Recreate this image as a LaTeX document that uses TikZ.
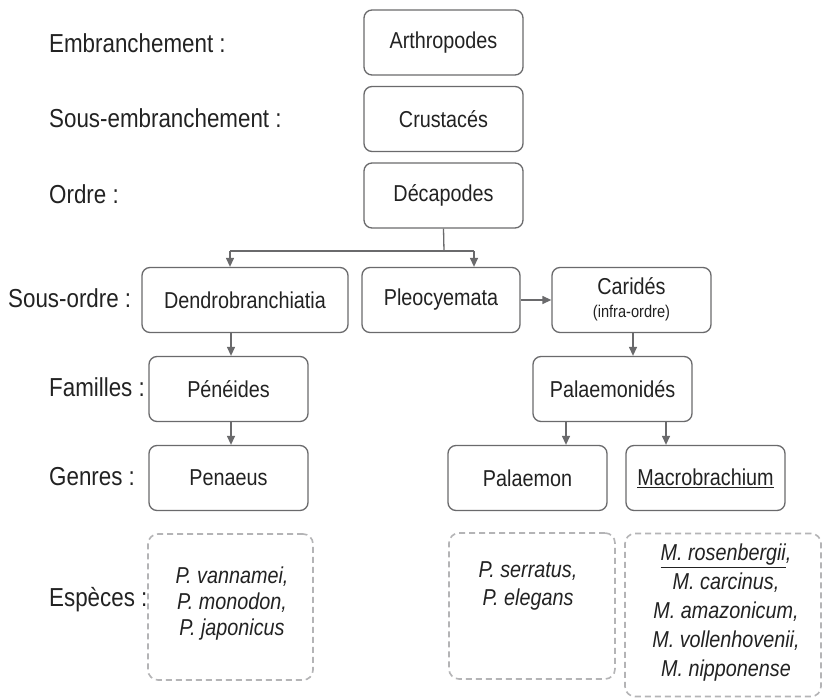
\documentclass[tikz,border=0pt]{standalone}
\usepackage{fontspec}
\setmainfont{Liberation Sans}[FakeStretch=0.86]
\usetikzlibrary{arrows.meta}
\definecolor{bordercol}{HTML}{6A6A6C}
\definecolor{dashcol}{HTML}{B4B4B6}
\definecolor{textcol}{HTML}{222222}
\newcommand{\lblfont}{\fontsize{26}{30}\selectfont}
\newcommand{\bxfont}{\fontsize{23}{28}\selectfont}
\tikzset{
  box/.style={draw=bordercol, line width=1.3pt, rounded corners=8pt, font=\bxfont, text=textcol, inner sep=0pt, minimum width=159pt, minimum height=65pt},
  spbox/.style={draw=dashcol, line width=1.6pt, rounded corners=10pt, dash pattern=on 6pt off 4pt, inner sep=0pt},
  sptext/.style={font=\bxfont\itshape, text=textcol, align=center, inner sep=0pt},
  lbl/.style={font=\lblfont, text=textcol, anchor=west, inner sep=0pt},
  arr/.style={draw=bordercol, line width=1.3pt, -{Triangle[length=9pt,width=8pt]}},
  ln/.style={draw=bordercol, line width=1.3pt}
}
\begin{document}
\begin{tikzpicture}[x=1pt,y=-1pt]
\fill[white] (0,0) rectangle (822,698);
\useasboundingbox (0,0) rectangle (822,698);
% labels
\node[lbl] (l1) at (49,43) {Embranchement :};
\node[lbl] (l2) at (49,118) {Sous-embranchement :};
\node[lbl] (l3) at (49,194) {Ordre :};
\node[lbl] (l4) at (8,298) {Sous-ordre :};
\node[lbl] (l5) at (49,387) {Familles :};
\node[lbl] (l6) at (49,477) {Genres :};
\node[lbl] (l7) at (49,600) {Espèces :};
% boxes
\node[box] (arth) at (443.5,42.5) {Arthropodes};
\node[box] (crus) at (443.5,119) {Crustacés};
\node[box] (deca) at (443.5,195.5) {Décapodes};
\node[box, minimum width=206pt] (dend) at (245,300) {Dendrobranchiatia};
\node[box, minimum width=158pt] (pleo) at (441,300) {Pleocyemata};
\node[box] (cari) at (631.5,300) {\begin{tabular}{@{}c@{}}Caridés\\[-5pt]{\fontsize{17}{20}\selectfont(infra-ordre)}\end{tabular}};
\node[box] (pene) at (228.5,389) {Pénéides};
\node[box] (palm) at (612.5,389) {Palaemonidés};
\node[box] (pena) at (228.5,478) {Penaeus};
\node[box] (palo) at (527.5,478) {Palaemon};
\node[box] (macr) at (705.5,478) {\underline{Macrobrachium}};
% species boxes
\node[spbox, minimum width=165pt, minimum height=146pt] (sp1) at (230.5,607) {};
\node[spbox, minimum width=166pt, minimum height=146pt] (sp2) at (532,606) {};
\node[spbox, minimum width=196pt, minimum height=163pt] (sp3) at (723,615) {};
\node[sptext] (t1) at (232,604) {P. vannamei,\\[-2pt] P. monodon,\\[-2pt] P. japonicus};
\node[sptext] (t2) at (528,586) {P. serratus,\\ P. elegans};
\node[sptext] (t3) at (726,613) {\underline{M. rosenbergii},\\[1pt] M. carcinus,\\[1pt] M. amazonicum,\\[1pt] M. vollenhovenii,\\[1pt] M. nipponense};
% connectors
\coordinate (j) at (444,251);
\coordinate (jl) at (230,251);
\coordinate (jr) at (474,251);
\draw[ln] (deca.south) -- (j);
\draw[ln] (jl) -- (jr);
\draw[arr] (jl) -- (jl |- dend.north);
\draw[arr] (jr) -- (jr |- pleo.north);
\draw[arr] (pleo.east) -- (cari.west);
\draw[arr] (dend.south -| 231,0) -- (pene.north -| 231,0);
\draw[arr] (pene.south -| 231,0) -- (pena.north -| 231,0);
\draw[arr] (cari.south -| 633,0) -- (palm.north -| 633,0);
\draw[arr] (palm.south -| 566,0) -- (palo.north -| 566,0);
\draw[arr] (palm.south -| 666,0) -- (macr.north -| 666,0);
\end{tikzpicture}
\end{document}
